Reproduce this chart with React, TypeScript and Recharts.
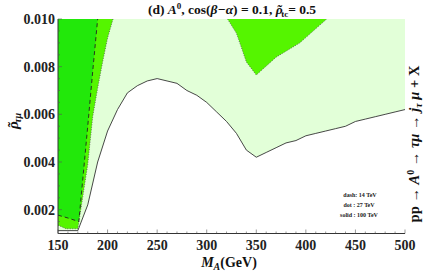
import React from "react";
import { ComposedChart, Area, Line, XAxis, YAxis } from "recharts";

const W = 425;
const H = 272;
const Y_MIN = 0.001;
const Y_MAX = 0.01;
const FONT = "'Liberation Serif', 'Times New Roman', serif";

// solid: 100 TeV boundary
const massSolid = [150, 160, 170, 180, 190, 200, 210, 220, 230, 240, 250, 260, 270, 280, 290, 300, 310, 320, 330, 340, 350, 360, 370, 380, 390, 400, 410, 420, 430, 440, 450, 460, 470, 480, 490, 500];
const rhoSolid = [0.00112, 0.00112, 0.00112, 0.0022, 0.004, 0.0053, 0.0062, 0.0069, 0.0072, 0.0074, 0.0075, 0.0074, 0.0073, 0.007, 0.0068, 0.0065, 0.0061, 0.0057, 0.0052, 0.0045, 0.0042, 0.0044, 0.0046, 0.0048, 0.0049, 0.0051, 0.0052, 0.0053, 0.0054, 0.0055, 0.0057, 0.0058, 0.0059, 0.006, 0.0061, 0.0062];

// dot: 27 TeV boundary (left branch and right notch)
const massDotL = [150, 158, 170, 175, 180, 185, 190, 195, 200, 205.5];
const rhoDotL = [0.00135, 0.0012, 0.0012, 0.00254, 0.0039, 0.0059, 0.0071, 0.0082, 0.0092, 0.01];
const massDotR = [321, 330, 335, 340, 350, 370, 394, 421];
const rhoDotR = [0.01, 0.0094, 0.0088, 0.0082, 0.00765, 0.0084, 0.009, 0.01];

// dash: 14 TeV boundary
const massDash = [150, 160, 171, 180, 185, 190];
const rhoDash = [0.00177, 0.00165, 0.0015, 0.0055, 0.0078, 0.01];

const xTicks = [150, 160, 170, 180, 190, 200, 210, 220, 230, 240, 250, 260, 270, 280, 290, 300, 310, 320, 330, 340, 350, 360, 370, 380, 390, 400, 410, 420, 430, 440, 450, 460, 470, 480, 490, 500];
const yTicks = [0.001, 0.0015, 0.002, 0.0025, 0.003, 0.0035, 0.004, 0.0045, 0.005, 0.0055, 0.006, 0.0065, 0.007, 0.0075, 0.008, 0.0085, 0.009, 0.0095, 0.01];
const yLabels = [0.002, 0.004, 0.006, 0.008, 0.01];

const toRows = (ms: number[], rs: number[]) =>
  ms.map((m, i) => ({ m, rho: rs[i], band: [rs[i], Y_MAX] }));

const solidRows = toRows(massSolid, rhoSolid);
const dotLRows = toRows(massDotL, rhoDotL);
const dotRRows = toRows(massDotR, rhoDotR);
const dashRows = toRows(massDash, rhoDash);

const isMajorX = (v: number) => v % 50 === 0;
const isMajorY = (v: number) => yLabels.some((l) => Math.abs(l - v) < 1e-9);
const TICK = "#555";

const BottomTick = ({ x, y, payload }: any) => {
  const major = isMajorX(payload.value);
  return (
    <g>
      <line x1={x} x2={x} y1={y} y2={y - (major ? 4 : 2)} stroke={TICK} strokeWidth={0.6} />
      {major && (
        <text x={x} y={y + 16} textAnchor="middle" fontFamily={FONT} fontWeight="bold" fontSize={14} fill="#222">
          {payload.value}
        </text>
      )}
    </g>
  );
};

const TopTick = ({ x, y, payload }: any) => (
  <line x1={x} x2={x} y1={y} y2={y + (isMajorX(payload.value) ? 4 : 2)} stroke={TICK} strokeWidth={0.6} />
);

const LeftTick = ({ x, y, payload }: any) => {
  const major = isMajorY(payload.value);
  return (
    <g>
      <line x1={x} x2={x + (major ? 4 : 2)} y1={y} y2={y} stroke={TICK} strokeWidth={0.6} />
      {major && (
        <text x={x - 3} y={y + 5} textAnchor="end" fontFamily={FONT} fontWeight="bold" fontSize={14} fill="#222">
          {payload.value.toFixed(3)}
        </text>
      )}
    </g>
  );
};

const RightTick = ({ x, y, payload }: any) => (
  <line x1={x} x2={x - (isMajorY(payload.value) ? 4 : 2)} y1={y} y2={y} stroke={TICK} strokeWidth={0.6} />
);

export default function App() {
  return (
    <div style={{ position: "absolute", left: 0, top: 0, width: W, height: H, background: "#fff" }}>
      <ComposedChart width={W} height={H} margin={{ top: 19, right: 20, bottom: 0, left: 0 }}>
        <XAxis
          xAxisId="b"
          type="number"
          dataKey="m"
          domain={[150, 500]}
          ticks={xTicks}
          interval={0}
          allowDataOverflow
          height={38.5}
          tickSize={0}
          tickMargin={0}
          tickLine={false}
          axisLine={{ stroke: "#333", strokeWidth: 1 }}
          tick={BottomTick}
        />
        <XAxis
          xAxisId="t"
          orientation="top"
          type="number"
          dataKey="m"
          domain={[150, 500]}
          ticks={xTicks}
          interval={0}
          allowDataOverflow
          height={0}
          tickSize={0}
          tickMargin={0}
          tickLine={false}
          axisLine={{ stroke: "#555", strokeWidth: 0.9 }}
          tick={TopTick}
        />
        <YAxis
          yAxisId="l"
          type="number"
          domain={[Y_MIN, Y_MAX]}
          ticks={yTicks}
          interval={0}
          allowDataOverflow
          width={58}
          tickSize={0}
          tickMargin={0}
          tickLine={false}
          axisLine={{ stroke: "#333", strokeWidth: 1 }}
          tick={LeftTick}
        />
        <YAxis
          yAxisId="r"
          orientation="right"
          type="number"
          domain={[Y_MIN, Y_MAX]}
          ticks={yTicks}
          interval={0}
          allowDataOverflow
          width={0}
          tickSize={0}
          tickMargin={0}
          tickLine={false}
          axisLine={{ stroke: "#333", strokeWidth: 1 }}
          tick={RightTick}
        />

        <Area xAxisId="b" yAxisId="l" data={solidRows} dataKey="band" type="linear" fill="#e2ffd8" fillOpacity={1} stroke="none" isAnimationActive={false} />
        <Area xAxisId="b" yAxisId="l" data={dotLRows} dataKey="band" type="linear" fill="#55f500" fillOpacity={1} stroke="none" isAnimationActive={false} />
        <Area xAxisId="b" yAxisId="l" data={dotRRows} dataKey="band" type="linear" fill="#55f500" fillOpacity={1} stroke="none" isAnimationActive={false} />
        <Area xAxisId="b" yAxisId="l" data={dashRows} dataKey="band" type="linear" fill="#22e80a" fillOpacity={1} stroke="none" isAnimationActive={false} />

        <Line xAxisId="b" yAxisId="l" data={solidRows} dataKey="rho" type="linear" stroke="#333" strokeWidth={0.9} dot={false} isAnimationActive={false} />
        <Line xAxisId="b" yAxisId="l" data={dotLRows} dataKey="rho" type="linear" stroke="#555" strokeWidth={0.8} strokeDasharray="1 1.5" dot={false} isAnimationActive={false} />
        <Line xAxisId="b" yAxisId="l" data={dotRRows} dataKey="rho" type="linear" stroke="#555" strokeWidth={0.8} strokeDasharray="1 1.5" dot={false} isAnimationActive={false} />
        <Line xAxisId="b" yAxisId="l" data={dashRows} dataKey="rho" type="linear" stroke="#222" strokeWidth={0.9} strokeDasharray="4 3" dot={false} isAnimationActive={false} />
      </ComposedChart>

      <svg width={W} height={H} style={{ position: "absolute", left: 0, top: 0, pointerEvents: "none" }}>
        <text x={232} y={14} textAnchor="middle" fontFamily={FONT} fontWeight="bold" fontSize={13.5} fill="#111">
          (d){" "}<tspan fontStyle="italic">A</tspan>
          <tspan fontSize={9} dy={-5}>0</tspan>
          <tspan dy={5}>,{" "}cos(</tspan>
          <tspan fontStyle="italic">β−α</tspan>) = 0.1,{"  "}
          <tspan fontStyle="italic">ρ</tspan>
          <tspan fontStyle="italic" dx={-6}>˜</tspan>
          <tspan fontSize={9} dx={0} dy={3}>tc</tspan>
          <tspan dy={-3}>= 0.5</tspan>
        </text>

        <text transform="translate(18,121) rotate(-90)" textAnchor="middle" fontFamily={FONT} fontWeight="bold" fontStyle="italic" fontSize={15} fill="#111">
          ρ<tspan dx={-6.5}>˜</tspan>
          <tspan fontSize={10} dy={3}>τμ</tspan>
        </text>

        <text x={229} y={267} textAnchor="middle" fontFamily={FONT} fontWeight="bold" fontSize={14} fill="#111">
          <tspan fontStyle="italic">M</tspan>
          <tspan fontStyle="italic" fontSize={10} dy={3}>A</tspan>
          <tspan dy={-3}>(GeV)</tspan>
        </text>

        <text transform="translate(419,144) rotate(-90)" textAnchor="middle" fontFamily={FONT} fontWeight="bold" fontSize={14.5} fill="#111">
          pp{" "}→{" "}<tspan fontStyle="italic">A</tspan>
          <tspan fontSize={10} dy={-5}>0</tspan>
          <tspan dy={5}>{" "}→{" "}</tspan>
          <tspan fontStyle="italic">τμ</tspan>{" "}→{" "}<tspan fontStyle="italic">j</tspan>
          <tspan fontStyle="italic" fontSize={10} dy={3}>τ</tspan>
          <tspan dy={-3}>{" "}</tspan>
          <tspan fontStyle="italic">μ</tspan>{" "}+{" "}X
        </text>

        <g fontFamily={FONT} fontWeight="bold" fontSize={6} fill="#222" textAnchor="middle">
          <text x={360} y={197}>dash: 14 TeV</text>
          <text x={359} y={207}>dot  : 27 TeV</text>
          <text x={359} y={217}>solid : 100 TeV</text>
        </g>
      </svg>
    </div>
  );
}
